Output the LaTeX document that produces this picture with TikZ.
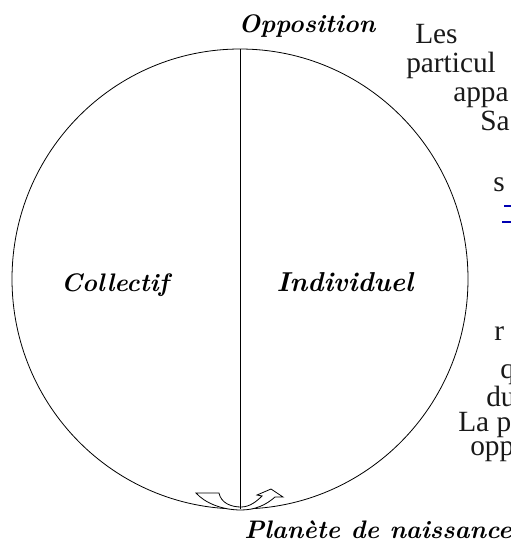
\documentclass[tikz,border=0pt]{standalone}
\usepackage{fontspec}
\newfontfamily\bodyfont{Liberation Serif}
\begin{document}
\begin{tikzpicture}[x=0.75pt,y=-0.75pt,
  lbl/.style={font=\fontsize{19}{22}\selectfont\bfseries\itshape, inner sep=0pt, anchor=base},
  frag/.style={font=\bodyfont\fontsize{22}{26}\selectfont, inner sep=0pt, anchor=base west, text=black!90},
  uturn/.style={draw=black, fill=white, line width=0.6pt, line join=miter}]
\clip (0,0) rectangle (511,547);
\fill[white] (0,0) rectangle (511,547);
% circle
\coordinate (c) at (240,279);
\draw[line width=0.6pt] (c) ellipse [x radius=228, y radius=230];
% u-turn arrow at the bottom
\draw[uturn] (196,493) -- (219,493)
  .. controls (221,503) and (231,507) .. (241,507)
  .. controls (250,507) and (257,501) .. (262,496)
  -- (257,495) -- (271,489) -- (283,497) -- (275,497)
  .. controls (266,505) and (255,510) .. (241,510)
  .. controls (222,510) and (205,503) .. (196,493) -- cycle;
% vertical axis
\coordinate (top) at (240.5,49);
\coordinate (bot) at (240.5,509);
\draw[line width=1.1pt] (top) -- (bot);
% labels
\node[lbl] (opp) at (307,32) {Opposition};
\node[lbl] (col) at (115,291) {Collectif};
\node[lbl, font=\fontsize{20.5}{24}\selectfont\bfseries\itshape] (ind) at (345,291) {Individuel};
\node[lbl] (nai) at (378,538) {Planète de naissance};
% clipped paragraph on the right
\node[frag] (t1) at (415,43) {Les};
\node[frag] (t2) at (406,72) {particul};
\node[frag] (t3) at (453,101) {appa};
\node[frag] (t4) at (480,130) {Sa};
\node[frag] (t5) at (493,191) {s};
\draw[blue!70!black, line width=0.8pt] (504,206) -- (511,206);
\draw[blue!70!black, line width=0.8pt] (502,222) -- (511,222);
\node[frag] (t6) at (494,340) {r};
\node[frag] (t7) at (500,378) {q};
\node[frag] (t8) at (486,406) {du};
\node[frag] (t9) at (458,431) {La p};
\node[frag] (t10) at (470,455) {opp};
\end{tikzpicture}
\end{document}
